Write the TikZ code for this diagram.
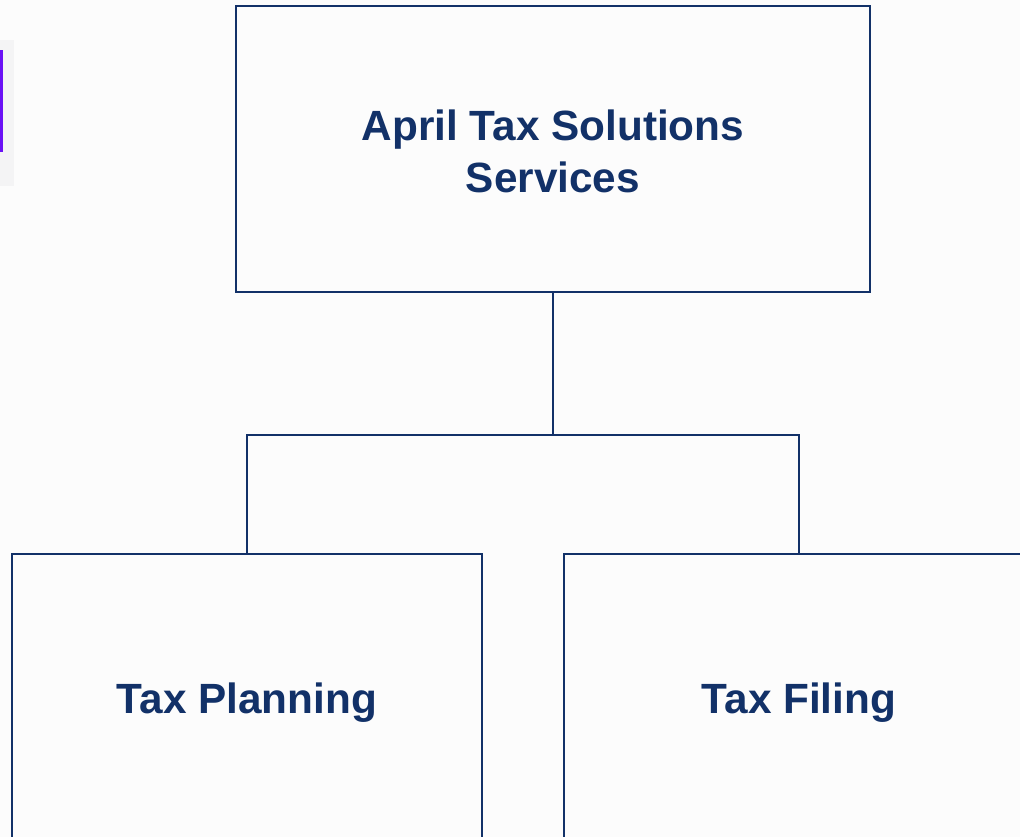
\documentclass[tikz,border=0pt]{standalone}
\usepackage{fontspec}
\setmainfont{Liberation Sans}
\definecolor{navy}{HTML}{123168}
\definecolor{bg}{HTML}{FCFCFC}
\definecolor{panel}{HTML}{F4F4F5}
\definecolor{violet}{HTML}{6A11F5}
\newcommand{\dropby}[2]{\raisebox{-#1}[\height][\depth]{#2}}
\tikzset{
  unitbox/.style={draw=navy, line width=2pt, fill=bg, text=navy, align=center,
    font=\fontsize{42.3}{52}\selectfont\bfseries, inner sep=0pt},
  link/.style={draw=navy, line width=2pt}
}
\begin{document}
\begin{tikzpicture}[x=1pt,y=-1pt]
\useasboundingbox (0,0) rectangle (1020,837);
\clip (0,0) rectangle (1020,837);
\fill[bg] (0,0) rectangle (1020,837);
\fill[panel] (0,40) rectangle (14,186);
\fill[violet] (0,50) rectangle (2.5,152);
\node[unitbox, minimum width=634pt, minimum height=286pt] (top) at (553,149) {\dropby{2.5pt}{April Tax Solutions}\\\dropby{2.5pt}{Services}};
\node[unitbox, minimum width=470pt, minimum height=288pt] (plan) at (247,698) {\dropby{5pt}{Tax Planning}};
\node[unitbox, minimum width=470pt, minimum height=288pt] (file) at (799,698) {\dropby{5pt}{Tax Filing}};
\coordinate (bus) at (553,435);
\draw[link] (top.south) -- (bus);
\draw[link] (plan.north) |- (bus) -| (file.north);
\end{tikzpicture}
\end{document}
